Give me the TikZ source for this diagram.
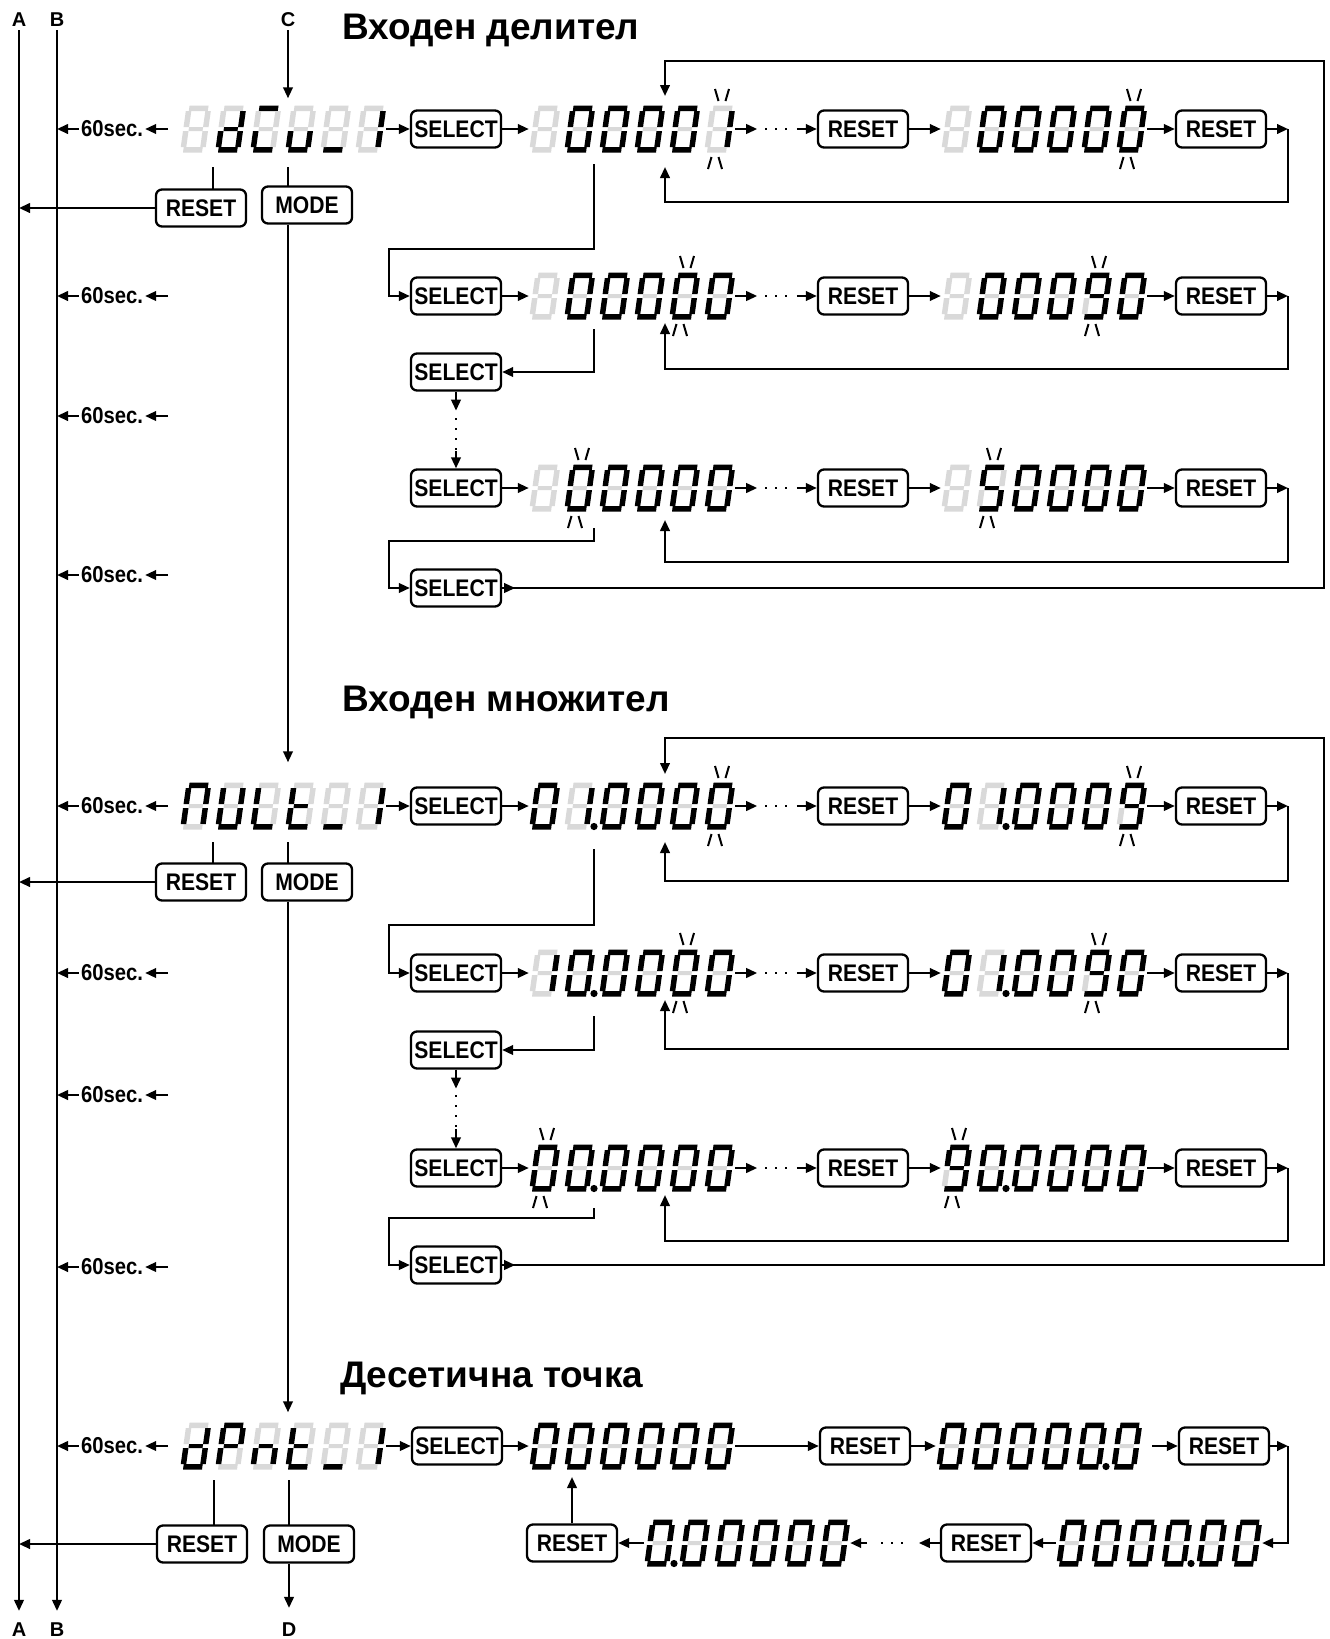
\documentclass[tikz,border=0pt]{standalone}
\usepackage{fontspec}
\setmainfont{Liberation Sans}
\newfontfamily\condf[FakeStretch=0.88]{Liberation Sans}
\usetikzlibrary{arrows.meta,calc}
\definecolor{segoff}{HTML}{D9D9D9}
% segment patterns a b c d e f g
\newcommand*\qG{0000000}
\newcommand*\qZ{1111110}
\newcommand*\qI{0110000}
\newcommand*\qN{1111011}
\newcommand*\qF{1011011}
\newcommand*\qd{0111101}
\newcommand*\qc{1001100}
\newcommand*\qu{0011100}
\newcommand*\qL{0001000}
\newcommand*\qM{1110110}
\newcommand*\qU{0111110}
\newcommand*\qLL{0001110}
\newcommand*\qt{0001111}
\newcommand*\qP{1100111}
\newcommand*\qn{0010101}
\def\segs#1#2#3#4#5#6#7\relax{%
 \fill[sg#1] (3,41.5) rectangle (22,47);
 \fill[sg#2] (19.5,25.5) rectangle (25,41.5);
 \fill[sg#3] (19.5,5.5) rectangle (25,21.5);
 \fill[sg#4] (3,0) rectangle (22,5.5);
 \fill[sg#5] (0,5.5) rectangle (5.5,21.5);
 \fill[sg#6] (0,25.5) rectangle (5.5,41.5);
 \fill[sg#7] (5.5,21.5) rectangle (19.5,25.5);}
\newcommand\dig[3]{\begin{scope}[shift={(#1,#2+23.5)},xslant=0.14,yscale=-1]\expandafter\segs#3\relax\end{scope}}
\newcommand\disp[9]{%
 \node[dbox] (#1) at (#2+103,#3) {};
 \dig{#2}{#3}{#4}\dig{#2+35}{#3}{#5}\dig{#2+70}{#3}{#6}%
 \dig{#2+105}{#3}{#7}\dig{#2+140}{#3}{#8}\dig{#2+175}{#3}{#9}}
\newcommand\dpt[3]{\fill (#1+35*#3+30,#2+20.5) circle[radius=3.6pt];}
\newcommand\blk[3]{%
 \draw[bl] (#1+35*#3+11,#2-40) -- ++(3.5,12);
 \draw[bl] (#1+35*#3+25,#2-40) -- ++(-3.5,12);
 \draw[bl] (#1+35*#3+7.5,#2+28) -- ++(-3.5,12);
 \draw[bl] (#1+35*#3+14.5,#2+28) -- ++(3.5,12);}
\tikzset{
 ln/.style={line width=2.3pt},
 arr/.style={line width=2.3pt,-{Triangle[length=11pt,width=9.5pt]}},
 btn/.style={draw,line width=2.3pt,rounded corners=6pt,minimum width=90pt,minimum height=37pt,inner sep=0pt,font={\condf\bfseries\fontsize{24}{24}\selectfont}},
 sec/.style={font={\condf\bfseries\fontsize{23}{23}\selectfont},inner sep=2pt},
 lab/.style={font={\bfseries\fontsize{20}{20}\selectfont},inner sep=3pt},
 ttl/.style={font={\bfseries\fontsize{37}{37}\selectfont},inner sep=0pt,anchor=base west},
 dbox/.style={minimum width=206pt,minimum height=47pt,inner sep=0pt},
 sg0/.style={fill=segoff}, sg1/.style={fill=black},
 bl/.style={line width=2pt},
 dots/.style={line width=2.3pt,dash pattern=on 2pt off 8pt},
}
\begin{document}
\begin{tikzpicture}[x=1pt,y=-1pt]
\useasboundingbox[fill=white] (0,0) rectangle (1330,1639);
% side labels and lines
\node[lab] (LA) at (19,20) {A};
\node[lab] (LB) at (57,20) {B};
\node[lab] (LC) at (288,20) {C};
\node[lab] (LA2) at (19,1630) {A};
\node[lab] (LB2) at (57,1630) {B};
\node[lab] (LD) at (289,1630) {D};
\draw[arr,shorten >=9pt] (LA) -- (LA2);
\draw[arr,shorten >=9pt] (LB) -- (LB2);
% titles
\node[ttl] (T1) at (342,39) {Входен делител};
\node[ttl] (T2) at (342,711) {Входен множител};
\node[ttl] (T3) at (340,1387) {Десетична точка};
% 60 sec labels
\foreach \yy [count=\i] in {129,296,416,575,806,973,1095,1267,1446}{
 \node[sec] (t\i) at (112,\yy) {60sec.};
 \coordinate (tr\i) at (168,\yy);
 \draw[arr] (t\i.west) -- (t\i.west -| LB);
 \draw[arr] (tr\i) -- (t\i.east);
}
% ===== nodes =====
\disp{dv}{180}{129}{\qG}{\qd}{\qc}{\qu}{\qL}{\qI}
\node[btn] (RA1) at (201,208) {RESET};
\node[btn] (M1) at (307,205) {MODE};
\node[btn] (S1) at (456,129) {SELECT};
\disp{d12}{529}{129}{\qG}{\qZ}{\qZ}{\qZ}{\qZ}{\qI}\blk{529}{129}{5}
\node[btn] (R13) at (863,129) {RESET};
\disp{d14}{941}{129}{\qG}{\qZ}{\qZ}{\qZ}{\qZ}{\qZ}\blk{941}{129}{5}
\node[btn] (R15) at (1221,129) {RESET};
\node[btn] (S2) at (456,296) {SELECT};
\disp{d22}{529}{296}{\qG}{\qZ}{\qZ}{\qZ}{\qZ}{\qZ}\blk{529}{296}{4}
\node[btn] (R23) at (863,296) {RESET};
\disp{d24}{941}{296}{\qG}{\qZ}{\qZ}{\qZ}{\qN}{\qZ}\blk{941}{296}{4}
\node[btn] (R25) at (1221,296) {RESET};
\node[btn] (S2b) at (456,372) {SELECT};
\node[btn] (S3) at (456,488) {SELECT};
\disp{d32}{529}{488}{\qG}{\qZ}{\qZ}{\qZ}{\qZ}{\qZ}\blk{529}{488}{1}
\node[btn] (R33) at (863,488) {RESET};
\disp{d34}{941}{488}{\qG}{\qF}{\qZ}{\qZ}{\qZ}{\qZ}\blk{941}{488}{1}
\node[btn] (R35) at (1221,488) {RESET};
\node[btn] (S3b) at (456,588) {SELECT};
\disp{dm}{180}{806}{\qM}{\qU}{\qLL}{\qt}{\qL}{\qI}
\node[btn] (RA4) at (201,882) {RESET};
\node[btn] (M4) at (307,882) {MODE};
\node[btn] (S4) at (456,806) {SELECT};
\disp{d42}{529}{806}{\qZ}{\qI}{\qZ}{\qZ}{\qZ}{\qZ}\dpt{529}{806}{1}\blk{529}{806}{5}
\node[btn] (R43) at (863,806) {RESET};
\disp{d44}{941}{806}{\qZ}{\qI}{\qZ}{\qZ}{\qZ}{\qN}\dpt{941}{806}{1}\blk{941}{806}{5}
\node[btn] (R45) at (1221,806) {RESET};
\node[btn] (S5) at (456,973) {SELECT};
\disp{d52}{529}{973}{\qI}{\qZ}{\qZ}{\qZ}{\qZ}{\qZ}\dpt{529}{973}{1}\blk{529}{973}{4}
\node[btn] (R53) at (863,973) {RESET};
\disp{d54}{941}{973}{\qZ}{\qI}{\qZ}{\qZ}{\qN}{\qZ}\dpt{941}{973}{1}\blk{941}{973}{4}
\node[btn] (R55) at (1221,973) {RESET};
\node[btn] (S5b) at (456,1050) {SELECT};
\node[btn] (S6) at (456,1168) {SELECT};
\disp{d62}{529}{1168}{\qZ}{\qZ}{\qZ}{\qZ}{\qZ}{\qZ}\dpt{529}{1168}{1}\blk{529}{1168}{0}
\node[btn] (R63) at (863,1168) {RESET};
\disp{d64}{941}{1168}{\qN}{\qZ}{\qZ}{\qZ}{\qZ}{\qZ}\dpt{941}{1168}{1}\blk{941}{1168}{0}
\node[btn] (R65) at (1221,1168) {RESET};
\node[btn] (S6b) at (456,1265) {SELECT};
\disp{dp}{180}{1446}{\qd}{\qP}{\qn}{\qt}{\qL}{\qI}
\node[btn] (RA7) at (202,1544) {RESET};
\node[btn] (M7) at (309,1544) {MODE};
\node[btn] (S7) at (457,1446) {SELECT};
\disp{d72}{529}{1446}{\qZ}{\qZ}{\qZ}{\qZ}{\qZ}{\qZ}
\node[btn] (R73) at (865,1446) {RESET};
\disp{d74}{936}{1446}{\qZ}{\qZ}{\qZ}{\qZ}{\qZ}{\qZ}\dpt{936}{1446}{4}
\node[btn] (R75) at (1224,1446) {RESET};
\disp{d78}{1056}{1543}{\qZ}{\qZ}{\qZ}{\qZ}{\qZ}{\qZ}\dpt{1056}{1543}{3}
\node[btn] (R77) at (986,1543) {RESET};
\disp{d76}{644}{1543}{\qZ}{\qZ}{\qZ}{\qZ}{\qZ}{\qZ}\dpt{644}{1543}{0}
\node[btn] (R76) at (572,1543) {RESET};
% ===== connectors: section 1 =====
\draw[arr,shorten >=7pt] (LC) -- (LC |- dv.north);
\draw[ln] (213,167) -- (213,189.5);
\draw[ln] (288,167) -- (288,186.5);
\draw[arr] (RA1.west) -- (RA1.west -| LA);
\draw[arr] (dv.east) -- (S1.west);
\draw[arr] (S1.east) -- (d12.west);
\draw[arr] (d12.east) -- ++(22,0);
\draw[dots] ($(d12.east)+(30,0)$) -- ($(R13.west)+(-24,0)$);
\draw[arr] ($(R13.west)+(-20,0)$) -- (R13.west);
\draw[arr] (R13.east) -- (d14.west);
\draw[arr] (d14.east) -- (R15.west);
\coordinate (k1) at (1288,129);
\draw[arr] (R15.east) -- (k1);
\draw[arr] (k1) -- (1288,202) -- (665,202) -- (665,167);
\draw[arr] (594,164) -- (594,249) -| (389,296) -- (S2.west);
% row 2
\draw[arr] (S2.east) -- (d22.west);
\draw[arr] (d22.east) -- ++(22,0);
\draw[dots] ($(d22.east)+(30,0)$) -- ($(R23.west)+(-24,0)$);
\draw[arr] ($(R23.west)+(-20,0)$) -- (R23.west);
\draw[arr] (R23.east) -- (d24.west);
\draw[arr] (d24.east) -- (R25.west);
\coordinate (k2) at (1288,296);
\draw[arr] (R25.east) -- (k2);
\draw[arr] (k2) -- (1288,369) -- (665,369) -- (665,323);
\draw[arr] (594,329) -- (594,372) -- (S2b.east);
\draw[arr] (S2b.south) -- ++(0,19);
\draw[dots] (456,418) -- (456,452);
\draw[arr] (456,451) -- (S3.north);
% row 3
\draw[arr] (S3.east) -- (d32.west);
\draw[arr] (d32.east) -- ++(22,0);
\draw[dots] ($(d32.east)+(30,0)$) -- ($(R33.west)+(-24,0)$);
\draw[arr] ($(R33.west)+(-20,0)$) -- (R33.west);
\draw[arr] (R33.east) -- (d34.west);
\draw[arr] (d34.east) -- (R35.west);
\coordinate (k3) at (1288,488);
\draw[arr] (R35.east) -- (k3);
\draw[arr] (k3) -- (1288,562) -- (665,562) -- (665,520);
\draw[arr] (594,528) -- (594,541) -| (389,588) -- (S3b.west);
\draw[arr] (S3b.east) -- ++(13,0);
\draw[arr] (S3b.east) -- (1324,588) -- (1324,61) -- (665,61) -- (665,96);
% ===== section 2 =====
\draw[arr,shorten >=20pt] (M1.south -| LC) -- (LC |- dm.north);
\draw[ln] (213,842) -- (213,863.5);
\draw[ln] (288,842) -- (288,863.5);
\draw[arr] (RA4.west) -- (RA4.west -| LA);
\draw[arr] (dm.east) -- (S4.west);
\draw[arr] (S4.east) -- (d42.west);
\draw[arr] (d42.east) -- ++(22,0);
\draw[dots] ($(d42.east)+(30,0)$) -- ($(R43.west)+(-24,0)$);
\draw[arr] ($(R43.west)+(-20,0)$) -- (R43.west);
\draw[arr] (R43.east) -- (d44.west);
\draw[arr] (d44.east) -- (R45.west);
\coordinate (k4) at (1288,806);
\draw[arr] (R45.east) -- (k4);
\draw[arr] (k4) -- (1288,881) -- (665,881) -- (665,842);
\draw[arr] (594,849) -- (594,925) -| (389,973) -- (S5.west);
% row 5
\draw[arr] (S5.east) -- (d52.west);
\draw[arr] (d52.east) -- ++(22,0);
\draw[dots] ($(d52.east)+(30,0)$) -- ($(R53.west)+(-24,0)$);
\draw[arr] ($(R53.west)+(-20,0)$) -- (R53.west);
\draw[arr] (R53.east) -- (d54.west);
\draw[arr] (d54.east) -- (R55.west);
\coordinate (k5) at (1288,973);
\draw[arr] (R55.east) -- (k5);
\draw[arr] (k5) -- (1288,1049) -- (665,1049) -- (665,1000);
\draw[arr] (594,1016) -- (594,1050) -- (S5b.east);
\draw[arr] (S5b.south) -- ++(0,19);
\draw[dots] (456,1095) -- (456,1130);
\draw[arr] (456,1129) -- (S6.north);
% row 6
\draw[arr] (S6.east) -- (d62.west);
\draw[arr] (d62.east) -- ++(22,0);
\draw[dots] ($(d62.east)+(30,0)$) -- ($(R63.west)+(-24,0)$);
\draw[arr] ($(R63.west)+(-20,0)$) -- (R63.west);
\draw[arr] (R63.east) -- (d64.west);
\draw[arr] (d64.east) -- (R65.west);
\coordinate (k6) at (1288,1168);
\draw[arr] (R65.east) -- (k6);
\draw[arr] (k6) -- (1288,1241) -- (665,1241) -- (665,1195);
\draw[arr] (594,1208) -- (594,1218) -| (389,1265) -- (S6b.west);
\draw[arr] (S6b.east) -- ++(13,0);
\draw[arr] (S6b.east) -- (1324,1265) -- (1324,738) -- (665,738) -- (665,774);
% ===== section 3 =====
\draw[arr,shorten >=10pt] (M4.south -| LC) -- (LC |- dp.north);
\draw[ln] (214,1480) -- (214,1525.5);
\draw[ln] (289,1480) -- (289,1525.5);
\draw[arr] (RA7.west) -- (RA7.west -| LA);
\draw[arr,shorten >=12pt] (M7.south -| LD) -- (LD);
\draw[arr] (dp.east) -- (S7.west);
\draw[arr] (S7.east) -- (d72.west);
\draw[arr] (d72.east) -- (R73.west);
\draw[arr] (R73.east) -- (d74.west);
\draw[arr] (d74.east) ++(10,0) -- (R75.west);
\coordinate (k7) at (1288,1446);
\draw[arr] (R75.east) -- (k7);
\draw[arr] (k7) -- (1288,1543) -- (d78.east);
\draw[arr] (d78.west) -- (R77.east);
\draw[arr] (R77.west) -- ++(-21,0);
\draw[dots] ($(R77.west)+(-37,0)$) -- ($(R77.west)+(-62,0)$);
\draw[arr] ($(d76.east)+(17,0)$) -- (d76.east);
\draw[arr] (d76.west) -- (R76.east);
\draw[arr] (R76.north) -- (572,1477);
\end{tikzpicture}
\end{document}
